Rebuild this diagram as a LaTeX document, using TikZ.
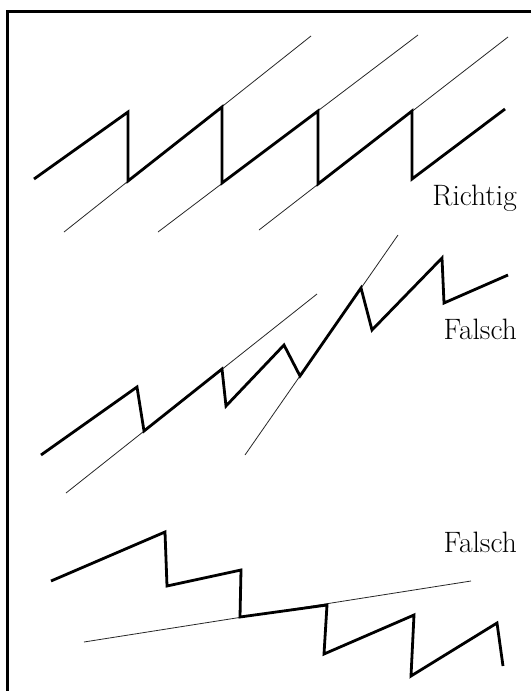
\documentclass[tikz,border=0pt]{standalone}
\usepackage{fontspec}
\usepackage{tikz}
\usetikzlibrary{positioning,calc}
\tikzset{
  framerule/.style={line width=3pt, black},
  zigzag/.style={line width=2.8pt, black, line join=miter},
  guide/.style={line width=0.8pt, black!85},
  verdict/.style={anchor=base east, inner sep=0pt,
    font=\fontsize{29.5}{33}\selectfont},
}

\begin{document}
\begin{tikzpicture}[x=1pt, y=-1pt]
  \useasboundingbox (0,0) rectangle (531,691);

  % Frame (only top and left edges show)
  \coordinate (fr) at (531,11);
  \coordinate (fc) at (7,11);
  \coordinate (fb) at (7,691);
  \draw[framerule] (fr) -- (fc) -- (fb);

  % Richtig
  \coordinate (a1) at (34,179);
  \coordinate (a2) at (128,112);
  \coordinate (a3) at (128,181);
  \coordinate (a4) at (222,107);
  \coordinate (a5) at (222,183);
  \coordinate (a6) at (318,111);
  \coordinate (a7) at (318,184);
  \coordinate (a8) at (412,111);
  \coordinate (a9) at (412,179);
  \coordinate (a10) at (505,109);
  \coordinate (l1) at (64,232);
  \coordinate (u1) at (311,36);
  \coordinate (l2) at (158,232);
  \coordinate (u2) at (418,35);
  \coordinate (l3) at (259,230);
  \coordinate (u3) at (508,37);
  \foreach \a/\b in {l1/u1, l2/u2, l3/u3} {
    \draw[guide] (\a) -- (\b);
  }
  \draw[zigzag] (a1) \foreach \i in {2,...,10} { -- (a\i) };
  \node[verdict] (richtig) at (517,205) {Richtig};

  % Falsch (upper)
  \coordinate (b1) at (41,455);
  \coordinate (b2) at (137,387);
  \coordinate (b3) at (144,431);
  \coordinate (b4) at (222,369);
  \coordinate (b5) at (226,406);
  \coordinate (b6) at (284,345);
  \coordinate (b7) at (300,376);
  \coordinate (b8) at (361,288);
  \coordinate (b9) at (372,330);
  \coordinate (b10) at (442,258);
  \coordinate (b11) at (444,303);
  \coordinate (b12) at (508,275);
  \coordinate (gA1) at (66,493);
  \coordinate (gA2) at (317,294);
  \coordinate (gB1) at (245,455);
  \coordinate (gB2) at (398,235);
  \foreach \a/\b in {gA1/gA2, gB1/gB2} {
    \draw[guide] (\a) -- (\b);
  }
  \draw[zigzag] (b1) \foreach \i in {2,...,12} { -- (b\i) };
  \node[verdict] (falschA) at (517,339) {Falsch};

  % Falsch (lower)
  \coordinate (c1) at (51,581);
  \coordinate (c2) at (165,532);
  \coordinate (c3) at (167,586);
  \coordinate (c4) at (241,570);
  \coordinate (c5) at (240,617);
  \coordinate (c6) at (327,605);
  \coordinate (c7) at (324,654);
  \coordinate (c8) at (414,615);
  \coordinate (c9) at (411,676);
  \coordinate (c10) at (497,623);
  \coordinate (c11) at (503,666);
  \coordinate (gC1) at (84,642);
  \coordinate (gC2) at (471,581);
  \draw[guide] (gC1) -- (gC2);
  \draw[zigzag] (c1) \foreach \i in {2,...,11} { -- (c\i) };
  \node[verdict] (falschB) at (517,552) {Falsch};
\end{tikzpicture}
\end{document}
